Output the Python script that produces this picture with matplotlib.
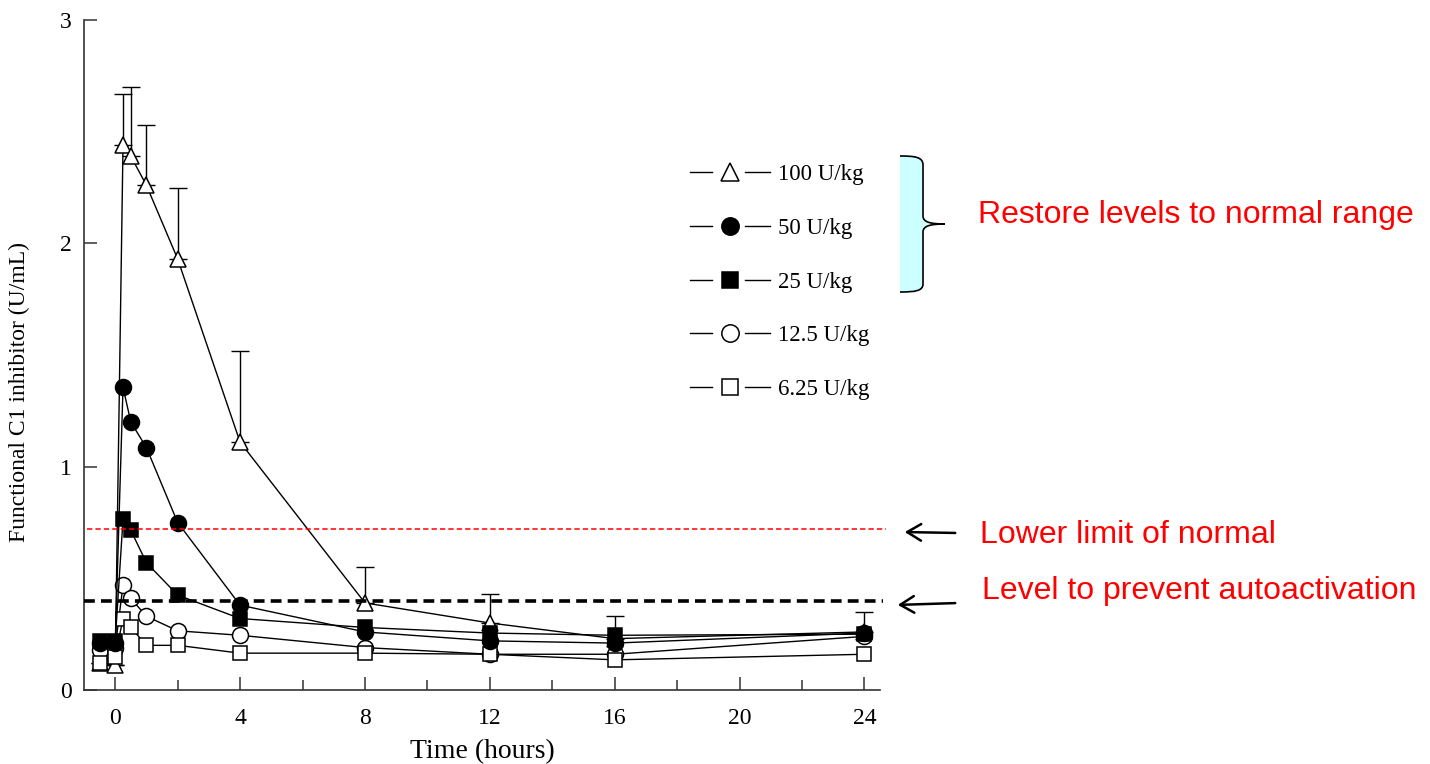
import numpy as np
import matplotlib
matplotlib.use('Agg')
import matplotlib.pyplot as plt
from matplotlib.lines import Line2D
from matplotlib.legend_handler import HandlerLine2D
from matplotlib.path import Path
from matplotlib.patches import PathPatch
from matplotlib.ticker import MultipleLocator

# Данные
time_h = [-0.5, 0, 0.25, 0.5, 1, 2, 4, 8, 12, 16, 24]
c1_100 = [0.12, 0.11, 2.44, 2.39, 2.26, 1.93, 1.11, 0.39, 0.30, 0.23, 0.26]
err_100 = [0, 0, 0.23, 0.31, 0.27, 0.32, 0.41, 0.16, 0.13, 0.10, 0.09]
c1_50 = [0.21, 0.21, 1.355, 1.20, 1.085, 0.75, 0.38, 0.26, 0.22, 0.21, 0.255]
c1_25 = [0.22, 0.22, 0.765, 0.715, 0.57, 0.425, 0.32, 0.28, 0.255, 0.245, 0.25]
c1_12_5 = [0.18, 0.19, 0.47, 0.41, 0.33, 0.265, 0.245, 0.19, 0.16, 0.16, 0.24]
c1_6_25 = [0.12, 0.15, 0.32, 0.28, 0.20, 0.20, 0.165, 0.165, 0.16, 0.135, 0.16]

dose_labels = ['100 U/kg', '50 U/kg', '25 U/kg', '12.5 U/kg', '6.25 U/kg']
markers = ['^', 'o', 's', 'o', 's']
filled = [False, True, True, False, False]

lower_normal = 0.72
autoact_level = 0.40

W, H = 1430, 764


def fx(x):
    return x / W


def fy(y):
    return 1 - y / H


class GapLine(HandlerLine2D):
    # линия - маркер - линия, с промежутками
    def create_artists(self, legend, orig_handle, xdescent, ydescent,
                       width, height, fontsize, trans):
        y = height / 2 - ydescent
        x0 = -xdescent
        arts = []
        for a, b in [(0, 0.28), (0.69, 1.0)]:
            ln = Line2D([x0 + a * width, x0 + b * width], [y, y], color='black', lw=1.0)
            ln.set_transform(trans)
            arts.append(ln)
        mk = Line2D([x0 + width / 2], [y], linestyle='none',
                    marker=orig_handle.get_marker(),
                    markersize=orig_handle.get_markersize() + 1,
                    markerfacecolor=orig_handle.get_markerfacecolor(),
                    markeredgecolor='black',
                    markeredgewidth=orig_handle.get_markeredgewidth())
        mk.set_transform(trans)
        arts.append(mk)
        return arts


fig = plt.figure(figsize=(W / 100, H / 100), dpi=100)
ax = fig.add_axes([fx(84), 74 / H, 796 / W, 670 / H])

serif = 'Liberation Serif'

# Планки погрешностей только для 100 U/kg
ax.errorbar(time_h, c1_100, yerr=[np.zeros(len(err_100)), err_100], fmt='none',
            ecolor='black', elinewidth=1.0, capsize=6.5, capthick=1.0, zorder=2)

series = [c1_100, c1_50, c1_25, c1_12_5, c1_6_25]
handles = []
for vals, m, f, lab in zip(series, markers, filled, dose_labels):
    ln, = ax.plot(time_h, vals, color='black', lw=1.0, marker=m,
                  markersize=11.5 if m != 's' else 10.5,
                  markerfacecolor='black' if f else 'white',
                  markeredgecolor='black', markeredgewidth=1.1,
                  label=lab, zorder=4 if f else 3)
    handles.append(ln)

# Референсные линии
ax.plot([-0.9, 24.7], [lower_normal, lower_normal], color='#ff0000', lw=1.1,
        dashes=(3.5, 2), clip_on=False, zorder=5)
ax.plot([-1.0, 24.6], [autoact_level, autoact_level], color='black', lw=2.6,
        dashes=(3.0, 1.7), clip_on=False, zorder=5)

ax.set_xlim(-1.0, 24.5)
ax.set_ylim(0, 3)
ax.set_xticks([0, 4, 8, 12, 16, 20, 24])
ax.xaxis.set_minor_locator(MultipleLocator(2))
ax.set_yticks([0, 1, 2, 3])

for s in ['top', 'right']:
    ax.spines[s].set_visible(False)
for s in ['left', 'bottom']:
    ax.spines[s].set_color('#333333')
    ax.spines[s].set_linewidth(1.2)

ax.tick_params(which='major', direction='in', length=9.5, width=1.1, color='#333333',
               labelsize=17, pad=9)
ax.tick_params(axis='x', which='major', pad=13)
ax.tick_params(which='minor', direction='in', length=7, width=1.1, color='#333333')
for lbl in ax.get_xticklabels() + ax.get_yticklabels():
    lbl.set_fontfamily(serif)

ax.set_xlabel('Time (hours)', fontsize=20, family=serif, labelpad=7)
ax.set_ylabel('Functional C1 inhibitor (U/mL)', fontsize=17, family=serif)
ax.yaxis.set_label_coords(-0.068, 0.445)

leg = ax.legend(handles=handles, loc='upper left',
                bbox_to_anchor=(fx(690), fy(164)), bbox_transform=fig.transFigure,
                frameon=False, borderpad=0, borderaxespad=0,
                handlelength=3.5, handletextpad=0.35, labelspacing=1.43,
                handler_map={Line2D: GapLine()},
                prop={'family': serif, 'size': 16.5})

# Фигурная скобка с голубой заливкой
brace_pts = [(900, 156), (915, 156), (923, 157), (923, 165), (923, 216),
             (923, 222), (930, 224), (945, 224),
             (930, 224), (923, 226), (923, 232), (923, 284),
             (923, 291), (915, 292), (900, 292)]
codes = [Path.MOVETO, Path.CURVE4, Path.CURVE4, Path.CURVE4, Path.LINETO,
         Path.CURVE4, Path.CURVE4, Path.CURVE4,
         Path.CURVE4, Path.CURVE4, Path.CURVE4, Path.LINETO,
         Path.CURVE4, Path.CURVE4, Path.CURVE4]
verts = [(fx(x), fy(y)) for x, y in brace_pts]
fill_path = Path(verts + [verts[0]], codes + [Path.CLOSEPOLY])
fig.patches.append(PathPatch(fill_path, facecolor='#ccffff', edgecolor='none',
                             transform=fig.transFigure))
fig.patches.append(PathPatch(Path(verts, codes), facecolor='none', edgecolor='black',
                             lw=1.2, transform=fig.transFigure))

# Подписи и стрелки
red_font = dict(color='red', fontsize=23, family='Liberation Sans', va='center', ha='left')
fig.text(fx(978), fy(215), 'Restore levels to normal range', **red_font)
fig.text(fx(980), fy(535), 'Lower limit of normal', **red_font)
fig.text(fx(982), fy(591), 'Level to prevent autoactivation', **red_font)

arrow = dict(arrowstyle='->,head_length=1.0,head_width=0.6', color='black', lw=1.8)
ax.annotate('', xy=(902, H - 532), xycoords='figure pixels',
            xytext=(958, H - 533), textcoords='figure pixels', arrowprops=arrow)
ax.annotate('', xy=(895, H - 605), xycoords='figure pixels',
            xytext=(958, H - 603), textcoords='figure pixels', arrowprops=arrow)

fig.savefig('out.png', dpi=100)
